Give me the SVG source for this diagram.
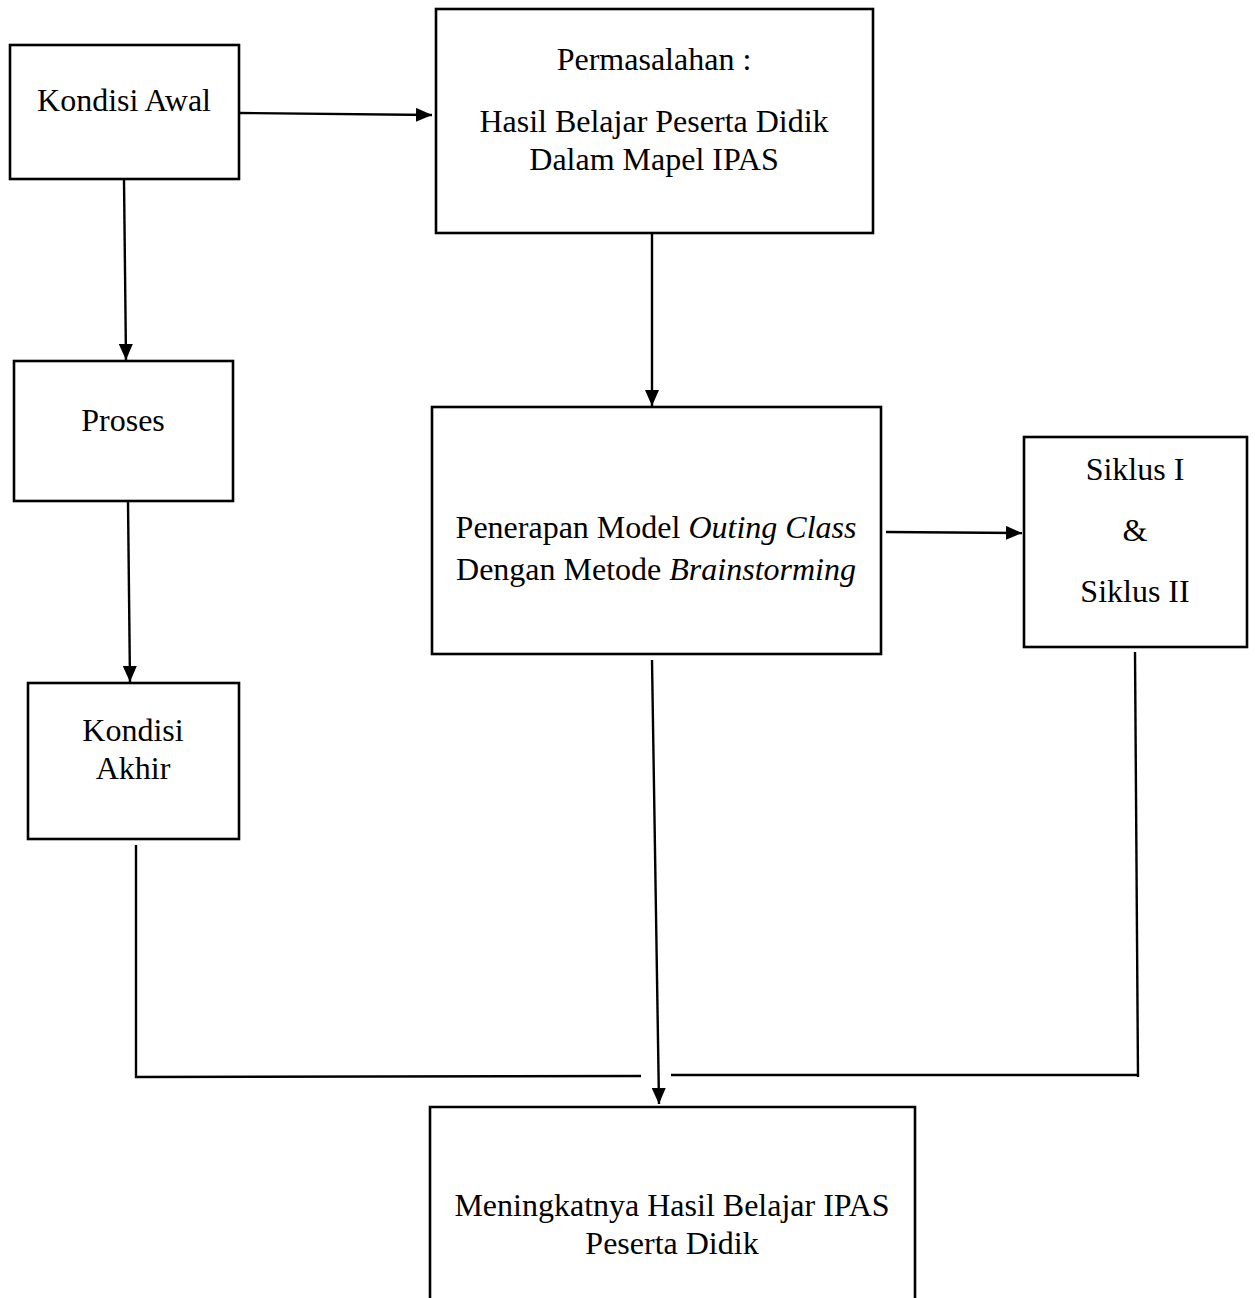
<svg xmlns="http://www.w3.org/2000/svg" width="1255" height="1298" viewBox="0 0 1255 1298">
<style>
.box{fill:#fff;stroke:#000;stroke-width:2.6}
.t{font-family:"Liberation Serif","Times New Roman",serif;font-size:32px;fill:#000;text-anchor:middle}
.c{fill:none;stroke:#000;stroke-width:2.4}
.a{marker-end:url(#ah)}
</style>
<defs>
<marker id="ah" viewBox="0 0 16 14" refX="16" refY="7" markerWidth="16" markerHeight="14" markerUnits="userSpaceOnUse" orient="auto">
<path d="M0,0 L16,7 L0,14 z" fill="#000"/>
</marker>
</defs>
<rect width="1255" height="1298" fill="#fff"/>
<g id="kondisi-awal">
<rect class="box" x="10" y="45" width="229" height="134"/>
<text class="t" x="124" y="111">Kondisi Awal</text>
</g>
<g id="permasalahan">
<rect class="box" x="436" y="9" width="437" height="224"/>
<text class="t" x="654" y="70">Permasalahan :</text>
<text class="t" x="654" y="132">Hasil Belajar Peserta Didik</text>
<text class="t" x="654" y="170">Dalam Mapel IPAS</text>
</g>
<g id="proses">
<rect class="box" x="14" y="361" width="219" height="140"/>
<text class="t" x="123" y="431">Proses</text>
</g>
<g id="kondisi-akhir">
<rect class="box" x="28" y="683" width="211" height="156"/>
<text class="t" x="133" y="741">Kondisi</text>
<text class="t" x="133" y="779">Akhir</text>
</g>
<g id="penerapan">
<rect class="box" x="432" y="407" width="449" height="247"/>
<text class="t" x="656" y="538">Penerapan Model <tspan font-style="italic">Outing Class</tspan></text>
<text class="t" x="656" y="580">Dengan Metode <tspan font-style="italic">Brainstorming</tspan></text>
</g>
<g id="siklus">
<rect class="box" x="1024" y="437" width="223" height="210"/>
<text class="t" x="1135" y="480">Siklus I</text>
<text class="t" x="1135" y="541">&amp;</text>
<text class="t" x="1135" y="602">Siklus II</text>
</g>
<g id="hasil">
<path class="box" d="M430,1300 V1107 H915 V1300"/>
<text class="t" x="672" y="1216">Meningkatnya Hasil Belajar IPAS</text>
<text class="t" x="672" y="1254">Peserta Didik</text>
</g>
<g id="connectors">
<line class="c a" x1="240" y1="113" x2="432" y2="115"/>
<line class="c a" x1="124" y1="180" x2="126" y2="360"/>
<line class="c a" x1="128" y1="502" x2="130" y2="682"/>
<line class="c a" x1="652" y1="234" x2="652" y2="406"/>
<line class="c a" x1="886" y1="532" x2="1022" y2="533"/>
<line class="c a" x1="652" y1="660" x2="659" y2="1104"/>
<polyline class="c" points="136,845 136,1077 641,1076"/>
<line class="c" x1="1135" y1="652" x2="1138" y2="1077"/>
<line class="c" x1="671" y1="1075" x2="1138" y2="1075"/>
</g>
</svg>
